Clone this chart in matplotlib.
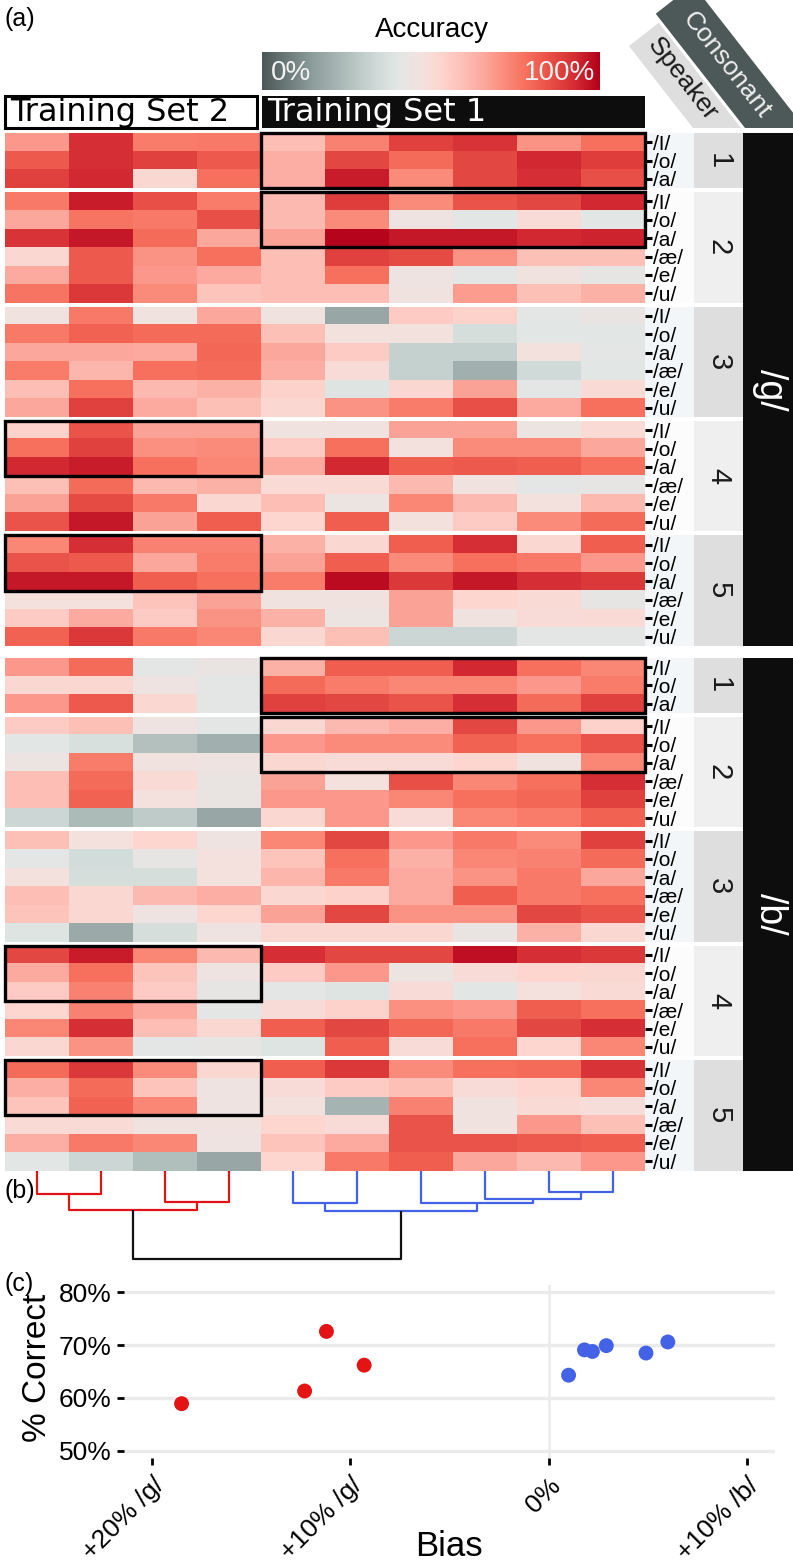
import numpy as np
import matplotlib
matplotlib.use("Agg")
import matplotlib.pyplot as plt
from matplotlib.colors import LinearSegmentedColormap
from matplotlib.patches import Rectangle, Polygon

plt.rcParams['font.family'] = ['Liberation Sans', 'DejaVu Sans']

W, H = 793, 1567

# ---------------- data ----------------
consonants = ["/g/", "/b/"]
speakers = ["1", "2", "3", "4", "5"]
vowels_short = ["/I/", "/o/", "/a/"]
vowels_full = ["/I/", "/o/", "/a/", "/æ/", "/e/", "/u/"]
training_sets = ["Training Set 2", "Training Set 1"]
models_per_set = [4, 6]
ts1_speakers = ["1", "2"]
ts2_speakers = ["4", "5"]

g_s1 = [[0.69, 0.92, 0.75, 0.76, 0.60, 0.74, 0.88, 0.91, 0.70, 0.78],
        [0.83, 0.92, 0.88, 0.83, 0.64, 0.87, 0.79, 0.87, 0.93, 0.89],
        [0.88, 0.93, 0.52, 0.78, 0.64, 0.95, 0.72, 0.87, 0.92, 0.85]]
g_s2 = [[0.76, 0.95, 0.85, 0.75, 0.61, 0.89, 0.72, 0.84, 0.87, 0.93],
        [0.66, 0.77, 0.76, 0.85, 0.61, 0.72, 0.45, 0.40, 0.50, 0.40],
        [0.91, 0.96, 0.79, 0.66, 0.67, 0.99, 0.96, 0.96, 0.93, 0.94],
        [0.52, 0.83, 0.70, 0.78, 0.60, 0.88, 0.86, 0.70, 0.59, 0.59],
        [0.65, 0.83, 0.69, 0.65, 0.60, 0.78, 0.45, 0.41, 0.46, 0.42],
        [0.77, 0.90, 0.72, 0.58, 0.60, 0.60, 0.46, 0.68, 0.59, 0.63]]
g_s3 = [[0.46, 0.76, 0.46, 0.66, 0.46, 0.18, 0.56, 0.54, 0.41, 0.43],
        [0.76, 0.81, 0.79, 0.79, 0.59, 0.47, 0.47, 0.36, 0.40, 0.40],
        [0.66, 0.66, 0.65, 0.80, 0.66, 0.56, 0.31, 0.31, 0.47, 0.41],
        [0.75, 0.62, 0.78, 0.79, 0.64, 0.50, 0.31, 0.21, 0.34, 0.40],
        [0.60, 0.78, 0.61, 0.63, 0.54, 0.39, 0.52, 0.67, 0.41, 0.51],
        [0.66, 0.88, 0.65, 0.59, 0.52, 0.70, 0.75, 0.85, 0.65, 0.78]]
g_s4 = [[0.54, 0.84, 0.67, 0.67, 0.46, 0.46, 0.67, 0.67, 0.44, 0.51],
        [0.78, 0.88, 0.71, 0.72, 0.56, 0.78, 0.47, 0.72, 0.72, 0.66],
        [0.93, 0.95, 0.78, 0.73, 0.65, 0.93, 0.82, 0.83, 0.82, 0.78],
        [0.59, 0.79, 0.61, 0.63, 0.51, 0.51, 0.61, 0.46, 0.41, 0.42],
        [0.67, 0.86, 0.76, 0.52, 0.60, 0.44, 0.73, 0.61, 0.47, 0.61],
        [0.84, 0.96, 0.67, 0.82, 0.53, 0.82, 0.47, 0.56, 0.72, 0.79]]
g_s5 = [[0.73, 0.92, 0.74, 0.74, 0.63, 0.52, 0.82, 0.92, 0.52, 0.82],
        [0.84, 0.83, 0.66, 0.75, 0.67, 0.82, 0.72, 0.78, 0.76, 0.69],
        [0.96, 0.96, 0.82, 0.78, 0.75, 0.98, 0.90, 0.96, 0.92, 0.90],
        [0.48, 0.48, 0.58, 0.67, 0.46, 0.46, 0.67, 0.53, 0.51, 0.42],
        [0.56, 0.65, 0.56, 0.70, 0.63, 0.44, 0.67, 0.46, 0.50, 0.51],
        [0.81, 0.90, 0.76, 0.73, 0.52, 0.59, 0.33, 0.33, 0.41, 0.41]]
b_s1 = [[0.69, 0.79, 0.41, 0.43, 0.63, 0.82, 0.82, 0.93, 0.78, 0.73],
        [0.52, 0.52, 0.45, 0.41, 0.79, 0.75, 0.73, 0.73, 0.69, 0.75],
        [0.69, 0.83, 0.52, 0.41, 0.88, 0.87, 0.84, 0.92, 0.79, 0.88]]
b_s2 = [[0.56, 0.59, 0.45, 0.41, 0.52, 0.61, 0.64, 0.87, 0.69, 0.54],
        [0.40, 0.37, 0.26, 0.21, 0.69, 0.72, 0.72, 0.81, 0.78, 0.84],
        [0.44, 0.75, 0.46, 0.45, 0.52, 0.50, 0.50, 0.53, 0.46, 0.73],
        [0.60, 0.79, 0.51, 0.43, 0.67, 0.48, 0.85, 0.73, 0.78, 0.92],
        [0.60, 0.81, 0.48, 0.43, 0.69, 0.69, 0.73, 0.78, 0.80, 0.88],
        [0.33, 0.24, 0.29, 0.18, 0.52, 0.69, 0.50, 0.73, 0.75, 0.81]]
b_s3 = [[0.59, 0.48, 0.53, 0.45, 0.73, 0.87, 0.69, 0.76, 0.72, 0.88],
        [0.41, 0.35, 0.42, 0.48, 0.58, 0.78, 0.63, 0.73, 0.74, 0.79],
        [0.47, 0.36, 0.36, 0.48, 0.62, 0.76, 0.65, 0.70, 0.76, 0.66],
        [0.60, 0.52, 0.61, 0.64, 0.52, 0.54, 0.65, 0.82, 0.76, 0.78],
        [0.58, 0.52, 0.45, 0.53, 0.67, 0.87, 0.70, 0.70, 0.87, 0.84],
        [0.39, 0.19, 0.36, 0.45, 0.52, 0.52, 0.52, 0.43, 0.63, 0.52]]
b_s4 = [[0.87, 0.95, 0.73, 0.61, 0.92, 0.87, 0.87, 0.97, 0.92, 0.90],
        [0.65, 0.78, 0.58, 0.45, 0.56, 0.69, 0.44, 0.50, 0.53, 0.52],
        [0.56, 0.74, 0.56, 0.42, 0.41, 0.39, 0.50, 0.40, 0.48, 0.51],
        [0.53, 0.74, 0.65, 0.41, 0.50, 0.54, 0.71, 0.69, 0.82, 0.78],
        [0.73, 0.92, 0.60, 0.52, 0.82, 0.87, 0.80, 0.76, 0.87, 0.92],
        [0.52, 0.70, 0.41, 0.42, 0.39, 0.82, 0.50, 0.78, 0.53, 0.73]]
b_s5 = [[0.79, 0.90, 0.72, 0.52, 0.82, 0.90, 0.72, 0.78, 0.79, 0.91],
        [0.64, 0.79, 0.58, 0.45, 0.50, 0.56, 0.59, 0.50, 0.53, 0.73],
        [0.58, 0.81, 0.73, 0.45, 0.47, 0.22, 0.74, 0.46, 0.51, 0.49],
        [0.51, 0.51, 0.46, 0.46, 0.53, 0.50, 0.84, 0.46, 0.69, 0.59],
        [0.64, 0.76, 0.73, 0.45, 0.58, 0.65, 0.84, 0.84, 0.83, 0.82],
        [0.40, 0.33, 0.25, 0.18, 0.53, 0.76, 0.82, 0.66, 0.61, 0.69]]

acc_stops = [0.0, 0.15, 0.25, 0.33, 0.40, 0.47, 0.53, 0.60, 0.66, 0.72, 0.78, 0.83, 0.88, 0.93, 1.0]
acc_colors = ["#4b5857", "#8e9e9d", "#b0bebc", "#cdd8d6", "#e2e7e5", "#f3e2df", "#fdd6cf",
              "#fdbeb5", "#fca79c", "#fb8b7b", "#f8715f", "#ee5a4d", "#e1433f", "#d32a33", "#b3001a"]

# dendrogram merges: (left, right, height, colour)
dendro_merges = [(0, 1, 23, "red"), (2, 3, 31, "red"), (10, 11, 39, "red"),
                 (4, 5, 32, "blue"), (8, 9, 21, "blue"), (7, 14, 28, "blue"),
                 (6, 15, 32, "blue"), (13, 16, 40, "blue"), (12, 17, 88, "black")]

bias_red = [-18.5, -12.3, -11.2, -9.3]
correct_red = [58.9, 61.3, 72.6, 66.2]
bias_blue = [1.0, 1.8, 2.2, 2.9, 4.9, 6.0]
correct_blue = [64.3, 69.1, 68.8, 69.9, 68.5, 70.6]
bias_ticks = [-20, -10, 0, 10]
bias_ticklabels = ["+20% /g/", "+10% /g/", "0%", "+10% /b/"]
correct_ticks = [50, 60, 70, 80]
correct_ticklabels = ["50%", "60%", "70%", "80%"]

RED = "#e41414"
BLUE = "#4462e6"
col_map = {"red": RED, "blue": BLUE, "black": "#111111"}

cmap = LinearSegmentedColormap.from_list("acc", list(zip(acc_stops, acc_colors)))

facets = {("/g/", "1"): g_s1, ("/g/", "2"): g_s2, ("/g/", "3"): g_s3,
          ("/g/", "4"): g_s4, ("/g/", "5"): g_s5,
          ("/b/", "1"): b_s1, ("/b/", "2"): b_s2, ("/b/", "3"): b_s3,
          ("/b/", "4"): b_s4, ("/b/", "5"): b_s5}


def rect(x0, y0, x1, y1):
    return [x0 / W, 1 - y1 / H, (x1 - x0) / W, (y1 - y0) / H]


fig = plt.figure(figsize=(W / 100, H / 100), dpi=100)
bg = fig.add_axes([0, 0, 1, 1], zorder=0)
bg.set_xlim(0, W)
bg.set_ylim(H, 0)
bg.axis("off")

HX0, HX1 = 4.5, 644.5
LX1, SX1, CX1 = 694, 743, 793
ROW = 18.4
GAP = 4
CGAP = 12
TOP = 133

n_models = sum(models_per_set)

# ---------------- header ----------------
bg.text(4, 19, "(a)", fontsize=18, va="center", ha="left")
bg.text(432, 30, "Accuracy", fontsize=20, ha="center", va="center")
cb = fig.add_axes(rect(262, 52, 600, 90), zorder=2)
cb.imshow(np.linspace(0, 1, 256)[None, :], cmap=cmap, aspect="auto", extent=[0, 1, 0, 1])
cb.axis("off")
cb.text(0.025, 0.45, "0%", color="#f2f2f2", fontsize=20, ha="left", va="center", transform=cb.transAxes)
cb.text(0.985, 0.45, "100%", color="#f2f2f2", fontsize=20, ha="right", va="center", transform=cb.transAxes)

bg.add_patch(Rectangle((5, 96), 252, 32, fc="white", ec="black", lw=2.2))
bg.text(10, 113, training_sets[0], fontsize=23, ha="left", va="center", family=["DejaVu Sans"])
bg.add_patch(Rectangle((262, 96), HX1 - 262, 32, fc="#0d0d0d", ec="none"))
bg.text(267, 113, training_sets[1], fontsize=23, ha="left", va="center", color="white",
        family=["DejaVu Sans"])

# rotated header bands
ang = np.deg2rad(52)
u = np.array([np.cos(ang), np.sin(ang)])
nvec = np.array([np.sin(ang), -np.cos(ang)])


def band(x0, x1, length, fc):
    b1 = np.array([x0, 128.0])
    t1 = b1 - length * u
    w = (x1 - x0) * np.sin(ang)
    t2 = t1 + w * nvec
    b2 = np.array([x1, 128.0])
    bg.add_patch(Polygon([b1, b2, t2, t1], closed=True, fc=fc, ec="none", clip_on=False))
    return (b1 + b2) / 2 * 0.5 + (t1 + t2) / 2 * 0.5


c_sp = band(693, 741, 104, "#dedede")
c_co = band(745, 805, 145, "#4d5958")
bg.text(c_sp[0] + 2, c_sp[1] - 2, "Speaker", rotation=-52, rotation_mode="anchor",
        ha="center", va="center", fontsize=19, color="#1a1a1a")
bg.text(c_co[0] + 2, c_co[1] + 1, "Consonant", rotation=-52, rotation_mode="anchor",
        ha="center", va="center", fontsize=19, color="#eeeeee")

# ---------------- heatmap facets ----------------
y = TOP
for ci, cons in enumerate(consonants):
    cons_top = y
    for si, spk in enumerate(speakers):
        vals = np.array(facets[(cons, spk)])
        nrow = vals.shape[0]
        labels = vowels_short if nrow == 3 else vowels_full
        y0, y1 = y, y + nrow * ROW
        odd = (si % 2 == 0)
        bg.add_patch(Rectangle((HX1, y0), LX1 - HX1, y1 - y0, fc="#f3f6f8" if odd else "#fcfcfd", ec="none"))
        bg.add_patch(Rectangle((LX1, y0), SX1 - LX1, y1 - y0, fc="#dedede" if odd else "#efefef", ec="none"))
        bg.text((LX1 + SX1) / 2, (y0 + y1) / 2, spk, rotation=-90, ha="center", va="center",
                fontsize=21, color="#1a1a1a")
        ax = fig.add_axes(rect(HX0, y0, HX1, y1), zorder=2)
        ax.imshow(vals, cmap=cmap, vmin=0, vmax=1, aspect="auto", interpolation="nearest")
        ax.set_xlim(-0.5, n_models - 0.5)
        ax.set_ylim(nrow - 0.5, -0.5)
        ax.set_xticks([])
        ax.yaxis.tick_right()
        ax.set_yticks(range(nrow))
        ax.set_yticklabels(labels)
        ax.tick_params(axis="y", length=5, width=2.2, pad=1, labelsize=15, colors="black")
        for s in ax.spines.values():
            s.set_visible(False)
        # training-set highlight boxes
        if spk in ts1_speakers:
            ax.add_patch(Rectangle((models_per_set[0] - 0.5, -0.5), models_per_set[1], 3,
                                   fill=False, ec="black", lw=2.4, clip_on=False, zorder=5))
        if spk in ts2_speakers:
            ax.add_patch(Rectangle((-0.5, -0.5), models_per_set[0], 3,
                                   fill=False, ec="black", lw=2.4, clip_on=False, zorder=5))
        y = y1 + GAP
    cons_bot = y - GAP
    bg.add_patch(Rectangle((SX1, cons_top), CX1 - SX1, cons_bot - cons_top, fc="#0d0d0d", ec="none"))
    bg.text((SX1 + CX1) / 2 + 2, (cons_top + cons_bot) / 2, cons, rotation=-90, ha="center", va="center",
            fontsize=27, color="white")
    y = cons_bot + CGAP
heat_bottom = y - CGAP

# ---------------- dendrogram ----------------
bg.text(4, 1191, "(b)", fontsize=18, va="center", ha="left")
dax = fig.add_axes(rect(HX0, heat_bottom, HX1, heat_bottom + 92), zorder=1)
dax.set_xlim(-0.5, n_models - 0.5)
dax.set_ylim(92, 0)
dax.axis("off")
pos = {i: float(i) for i in range(n_models)}
hgt = {i: 0.0 for i in range(n_models)}
for k, (a, b, h, c) in enumerate(dendro_merges):
    dax.plot([pos[a], pos[a], pos[b], pos[b]], [hgt[a], h, h, hgt[b]],
             color=col_map[c], lw=1.6, solid_capstyle="butt")
    pos[n_models + k] = (pos[a] + pos[b]) / 2
    hgt[n_models + k] = h

# ---------------- scatter ----------------
bg.text(4, 1284, "(c)", fontsize=18, va="center", ha="left")
sax = fig.add_axes(rect(124, 1285, 775, 1458), zorder=1)
sax.set_xlim(-21.4, 11.4)
sax.set_ylim(48.6, 81.4)
for s in sax.spines.values():
    s.set_visible(False)
for t in correct_ticks:
    sax.axhline(t, color="#ebebeb", lw=2.4, zorder=0)
sax.axvline(0, color="#ebebeb", lw=1.8, zorder=0)
sax.scatter(bias_red, correct_red, s=115, color=RED, zorder=3, edgecolors="none")
sax.scatter(bias_blue, correct_blue, s=115, color=BLUE, zorder=3, edgecolors="none")
sax.set_yticks(correct_ticks)
sax.set_yticklabels(correct_ticklabels)
sax.set_xticks(bias_ticks)
sax.set_xticklabels(bias_ticklabels, rotation=45, ha="right", va="top", rotation_mode="anchor")
sax.tick_params(axis="both", length=5, width=2, labelsize=19, colors="black", pad=4)
sax.tick_params(axis="x", pad=6)
bg.text(38, 1368, "% Correct", rotation=90, ha="center", va="center", fontsize=24)
bg.text(449, 1546, "Bias", ha="center", va="center", fontsize=25)

fig.savefig("out.png", dpi=100)
